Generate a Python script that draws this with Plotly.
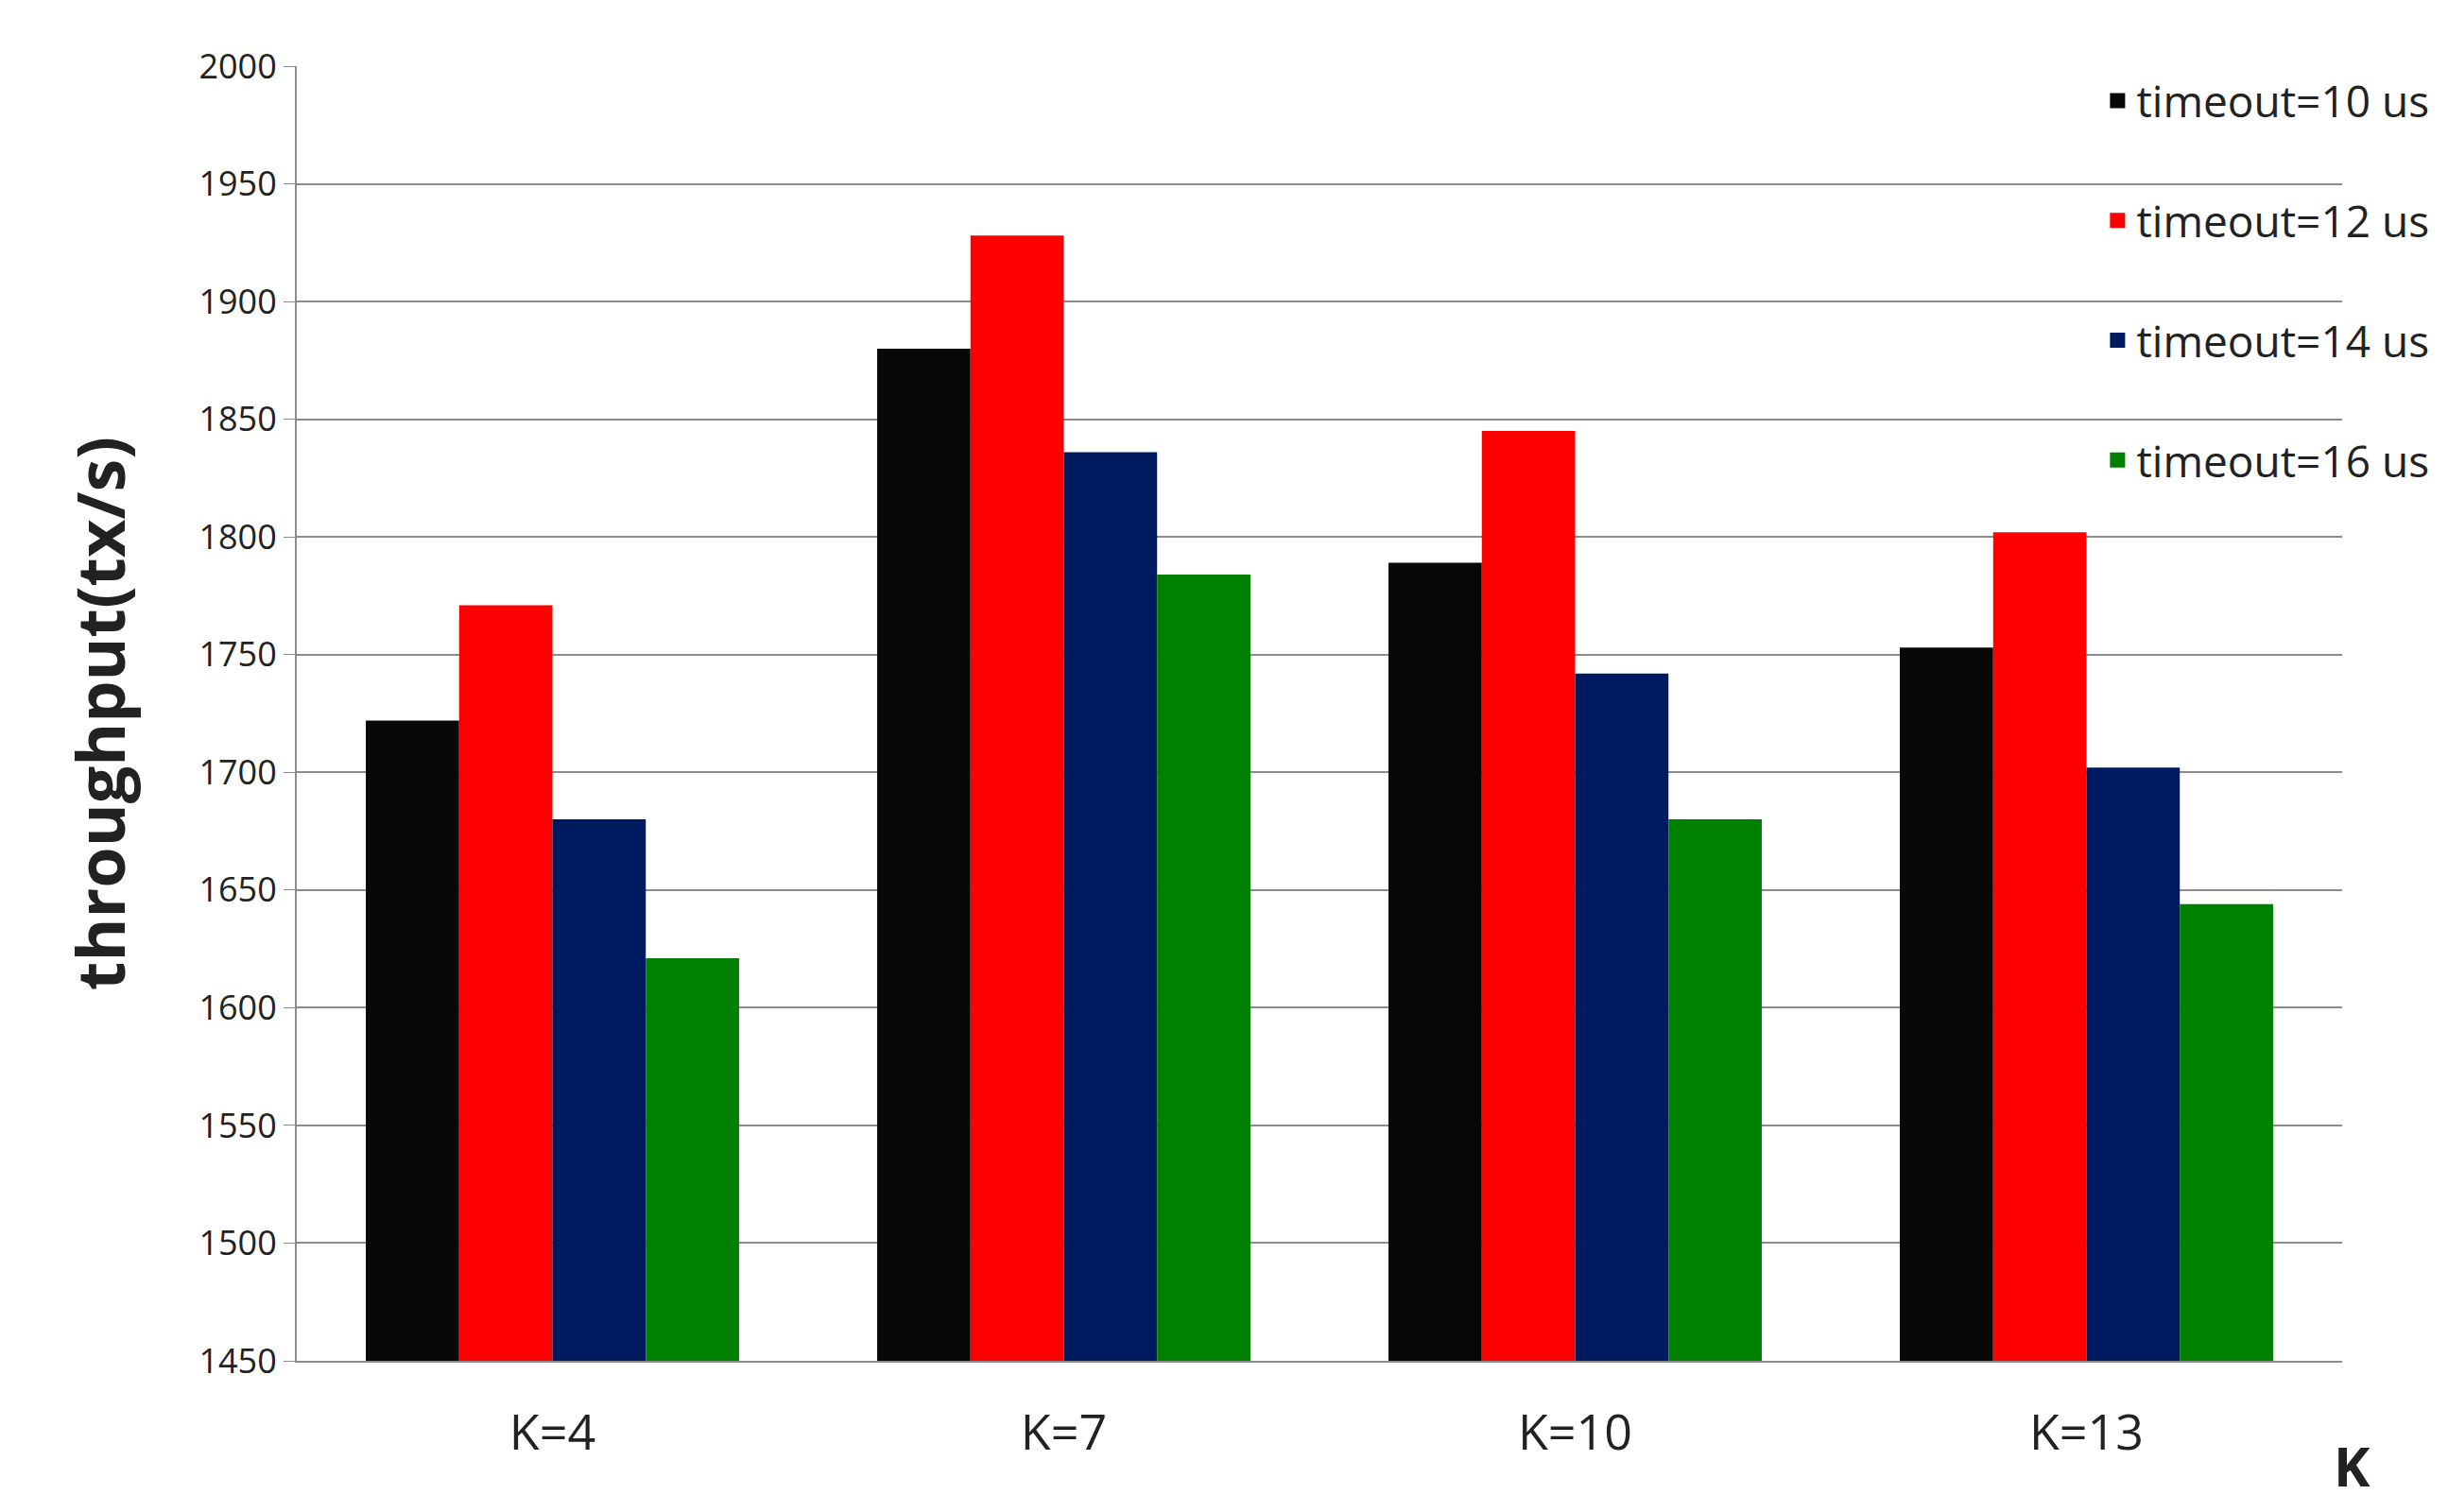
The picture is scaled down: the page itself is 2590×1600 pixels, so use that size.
import plotly.graph_objects as go

categories = ["K=4", "K=7", "K=10", "K=13"]
series_names = ["timeout=10 us", "timeout=12 us", "timeout=14 us", "timeout=16 us"]
values = [
    [1722, 1880, 1789, 1753],
    [1771, 1928, 1845, 1802],
    [1680, 1836, 1742, 1702],
    [1621, 1784, 1680, 1644],
]
colors = ["#080808", "#ff0000", "#001a60", "#008000"]
y_ticks = list(range(1450, 2001, 50))

fig = go.Figure()
for name, vals, c in zip(series_names, values, colors):
    fig.add_trace(go.Bar(x=categories, y=vals, name=name, marker_color=c,
                         marker_line_width=0, showlegend=False))
for name, c in zip(series_names, colors):
    fig.add_trace(go.Scatter(x=[None], y=[None], mode="markers", name=name, legendgroup=name,
                             marker=dict(symbol="square", size=34, color=c)))

fig.update_layout(
    width=2590, height=1600, barmode="group", bargap=0.27,
    plot_bgcolor="white", paper_bgcolor="white",
    font=dict(family="Open Sans, Liberation Sans, sans-serif", color="#222"),
    margin=dict(l=306, r=120, t=62, b=168),
    legend=dict(x=1.045, xanchor="right", y=1.0, yanchor="top", font=dict(size=46),
                tracegroupgap=64, itemwidth=30, bgcolor="rgba(0,0,0,0)"),
    yaxis=dict(range=[1450, 2000], tickvals=y_ticks, tickfont=dict(size=36),
               gridcolor="#8c8c8c", gridwidth=2, showline=True, linecolor="#8c8c8c", linewidth=2,
               ticks="outside", ticklen=12, tickcolor="#8c8c8c",
               title=dict(text="<b>throughput(tx/s)</b>", font=dict(size=70), standoff=55)),
    xaxis=dict(tickfont=dict(size=52), showline=True, linecolor="#8c8c8c", linewidth=2,
               ticks="", ticklabelstandoff=30),
)
fig.add_annotation(text="<b>K</b>", x=0.995, xref="paper", y=-0.05, yref="paper",
                   xanchor="left", yanchor="top", showarrow=False, font=dict(size=58))
fig.write_html("out.html")
